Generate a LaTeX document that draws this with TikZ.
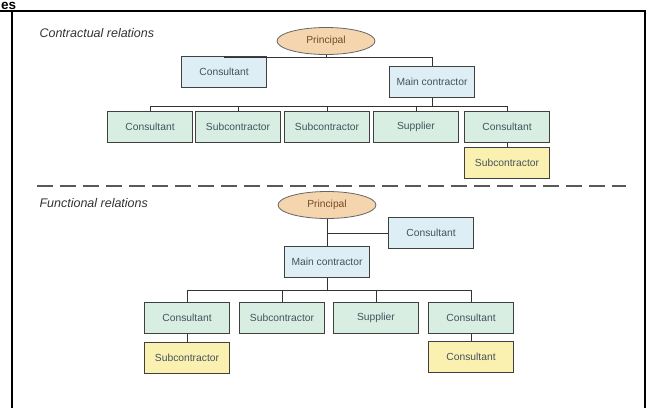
\documentclass[tikz,border=0pt]{standalone}
\usepackage{fontspec}
\setmainfont{Liberation Sans}
\usetikzlibrary{shapes.geometric}
\definecolor{princfill}{HTML}{F5D5AE}
\definecolor{consfill}{HTML}{DDEEF5}
\definecolor{rowfill}{HTML}{D8EEE2}
\definecolor{subfill}{HTML}{FAF1B0}
\definecolor{boxtext}{HTML}{46525E}
\begin{document}
\begin{tikzpicture}[x=1pt,y=-1pt,
    every node/.style={font=\fontsize{10.3}{12}\selectfont,text=boxtext},
    org/.style={draw=black!75,line width=1pt,minimum width=85pt,minimum height=31pt,inner sep=0pt},
    principal/.style={ellipse,draw=black!60,line width=0.8pt,fill=princfill,minimum width=98pt,minimum height=27pt,inner sep=0pt,text=brown!60!black},
    link/.style={draw=black!80,line width=0.9pt},
    heading/.style={font=\fontsize{12.5}{14}\selectfont\itshape,text=black!80,anchor=west}]
\useasboundingbox (0,0) rectangle (646,408);

% frame
\node[anchor=base west,inner sep=0pt,text=black,font=\fontsize{13.5}{15}\selectfont\bfseries] (title) at (1,9.6) {es};
\draw[line width=2pt] (0,11) -- (646,11);
\draw[line width=1.3pt] (12,11) -- (12,408);
\draw[line width=1.3pt] (645,11) -- (645,408);

% contractual relations
\node[heading] (contr) at (36,33) {Contractual relations};
\node[principal] (pr1) at (326,41) {Principal};
\node[org,fill=consfill] (con1) at (224,72) {Consultant};
\node[org,fill=consfill] (mc1) at (432,82) {Main contractor};
\node[org,fill=rowfill] (c1) at (150,127) {Consultant};
\node[org,fill=rowfill] (c2) at (238,127) {Subcontractor};
\node[org,fill=rowfill] (c3) at (327,127) {Subcontractor};
\node[org,fill=rowfill] (c4) at (416,127) {Supplier};
\node[org,fill=rowfill] (c5) at (507,127) {Consultant};
\node[org,fill=subfill] (s5) at (507,163) {Subcontractor};

\coordinate (busA) at (326,57);
\coordinate (busB) at (432,106);
\draw[link] (pr1.south) -- (busA);
\draw[link] (busA) -| (con1.north);
\draw[link] (busA) -| (mc1.north);
\draw[link] (mc1.south) -- (busB);
\foreach \n in {c1,c2,c3,c4,c5}
  \draw[link] (busB) -| (\n.north);
\draw[link] (c5.south) -- (s5.north);

% separator
\draw[line width=2pt,black!65,dash pattern=on 16pt off 7pt] (37,186) -- (626,186);

% functional relations
\node[heading] (funct) at (36,203) {Functional relations};
\node[principal] (pr2) at (327,205) {Principal};
\node[org,fill=consfill] (con2) at (431,233) {Consultant};
\node[org,fill=consfill] (mc2) at (327,262) {Main contractor};
\node[org,fill=rowfill] (f1) at (187,318) {Consultant};
\node[org,fill=rowfill] (f2) at (282,318) {Subcontractor};
\node[org,fill=rowfill] (f3) at (376,318) {Supplier};
\node[org,fill=rowfill] (f4) at (471,318) {Consultant};
\node[org,fill=subfill] (s1) at (187,358) {Subcontractor};
\node[org,fill=subfill] (s4) at (471,357) {Consultant};

\coordinate (busD) at (327,290);
\draw[link] (pr2.south) -- (mc2.north);
\draw[link] (con2.west) -- (con2.west -| pr2.south);
\draw[link] (mc2.south) -- (busD);
\foreach \n in {f1,f2,f3,f4}
  \draw[link] (busD) -| (\n.north);
\draw[link] (f1.south) -- (s1.north);
\draw[link] (f4.south) -- (s4.north);
\end{tikzpicture}
\end{document}
